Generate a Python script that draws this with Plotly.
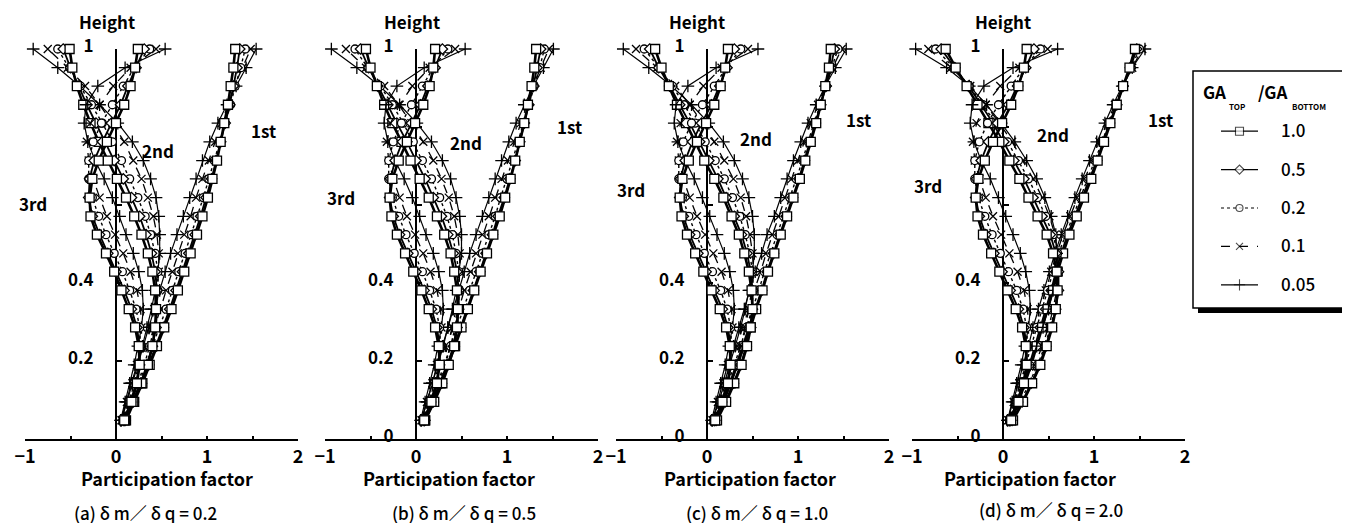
import plotly.graph_objects as go

# ---------------- data ----------------
HEIGHT = [0.048, 0.095, 0.143, 0.190, 0.238, 0.286, 0.333, 0.381, 0.429, 0.476,
          0.524, 0.571, 0.619, 0.667, 0.714, 0.762, 0.810, 0.857, 0.905, 0.952, 1.000]
GA_RATIOS = ["1.0", "0.5", "0.2", "0.1", "0.05"]
MODE_NAMES = ["1st", "2nd", "3rd"]
PANEL_TITLES = ["(a) δ m／ δ q = 0.2", "(b) δ m／ δ q = 0.5",
                "(c) δ m／ δ q = 1.0", "(d) δ m／ δ q = 2.0"]
X_TICK_VALUES = [-1, -0.5, 0, 0.5, 1, 1.5, 2]
X_TICK_TEXT = ["−1", "", "0", "", "1", "", "2"]
Y_TICK_VALUES = [0, 0.2, 0.4, 0.6, 0.8, 1.0]

# panel (a)  rows: GA ratio 1.0, 0.5, 0.2, 0.1, 0.05
A_MODE1 = [
    [0.11, 0.20, 0.29, 0.37, 0.45, 0.53, 0.61, 0.68, 0.75, 0.82, 0.89, 0.95, 1.01, 1.06, 1.11, 1.15, 1.19, 1.23, 1.26, 1.29, 1.31],
    [0.10, 0.19, 0.28, 0.36, 0.44, 0.52, 0.59, 0.66, 0.73, 0.80, 0.87, 0.93, 0.99, 1.05, 1.10, 1.15, 1.20, 1.25, 1.29, 1.33, 1.36],
    [0.09, 0.17, 0.25, 0.33, 0.40, 0.48, 0.55, 0.62, 0.69, 0.76, 0.83, 0.89, 0.96, 1.02, 1.08, 1.14, 1.20, 1.26, 1.31, 1.37, 1.42],
    [0.07, 0.14, 0.21, 0.28, 0.35, 0.42, 0.49, 0.55, 0.62, 0.68, 0.75, 0.82, 0.88, 0.95, 1.02, 1.09, 1.16, 1.23, 1.30, 1.39, 1.48],
    [0.06, 0.12, 0.18, 0.24, 0.30, 0.36, 0.42, 0.48, 0.54, 0.60, 0.67, 0.74, 0.81, 0.88, 0.95, 1.03, 1.12, 1.22, 1.32, 1.43, 1.54],
]
A_MODE2 = [
    [0.10, 0.19, 0.28, 0.35, 0.40, 0.43, 0.44, 0.43, 0.40, 0.35, 0.28, 0.20, 0.11, 0.01, -0.09, -0.19, -0.28, -0.36, -0.43, -0.48, -0.51],
    [0.09, 0.18, 0.27, 0.34, 0.40, 0.44, 0.45, 0.45, 0.43, 0.39, 0.33, 0.26, 0.17, 0.08, -0.02, -0.12, -0.22, -0.32, -0.41, -0.50, -0.58],
    [0.08, 0.16, 0.24, 0.31, 0.37, 0.42, 0.45, 0.46, 0.46, 0.43, 0.38, 0.32, 0.24, 0.15, 0.06, -0.04, -0.15, -0.27, -0.39, -0.51, -0.64],
    [0.07, 0.14, 0.21, 0.27, 0.33, 0.38, 0.42, 0.45, 0.47, 0.47, 0.45, 0.41, 0.35, 0.28, 0.19, 0.09, -0.04, -0.18, -0.34, -0.53, -0.75],
    [0.055, 0.11, 0.17, 0.23, 0.29, 0.34, 0.39, 0.43, 0.46, 0.48, 0.48, 0.47, 0.44, 0.38, 0.30, 0.18, 0.02, -0.18, -0.40, -0.64, -0.91],
]
A_MODE3 = [
    [0.09, 0.17, 0.23, 0.26, 0.25, 0.21, 0.14, 0.06, -0.02, -0.11, -0.21, -0.28, -0.29, -0.26, -0.19, -0.10, 0.00, 0.09, 0.16, 0.21, 0.24],
    [0.085, 0.16, 0.22, 0.26, 0.26, 0.23, 0.17, 0.09, 0.00, -0.09, -0.18, -0.26, -0.30, -0.29, -0.24, -0.15, -0.05, 0.05, 0.13, 0.22, 0.31],
    [0.075, 0.145, 0.20, 0.25, 0.27, 0.26, 0.22, 0.15, 0.07, -0.02, -0.11, -0.19, -0.26, -0.30, -0.30, -0.25, -0.16, -0.04, 0.08, 0.20, 0.37],
    [0.06, 0.12, 0.18, 0.23, 0.26, 0.28, 0.27, 0.23, 0.16, 0.08, -0.01, -0.10, -0.18, -0.25, -0.30, -0.32, -0.28, -0.18, -0.03, 0.16, 0.44],
    [0.05, 0.10, 0.15, 0.20, 0.24, 0.28, 0.30, 0.29, 0.25, 0.19, 0.11, 0.04, -0.04, -0.13, -0.23, -0.31, -0.35, -0.33, -0.20, 0.10, 0.54],
]

# panel (b)
B_MODE1 = [
    [0.10, 0.19, 0.27, 0.35, 0.43, 0.50, 0.57, 0.64, 0.71, 0.78, 0.85, 0.92, 0.98, 1.04, 1.09, 1.14, 1.19, 1.23, 1.27, 1.30, 1.32],
    [0.095, 0.18, 0.26, 0.34, 0.42, 0.49, 0.56, 0.63, 0.70, 0.77, 0.84, 0.90, 0.97, 1.03, 1.09, 1.14, 1.19, 1.24, 1.29, 1.33, 1.37],
    [0.085, 0.16, 0.24, 0.31, 0.38, 0.45, 0.52, 0.59, 0.66, 0.73, 0.80, 0.87, 0.93, 1.00, 1.06, 1.12, 1.18, 1.24, 1.30, 1.36, 1.41],
    [0.07, 0.14, 0.21, 0.27, 0.34, 0.40, 0.47, 0.53, 0.60, 0.66, 0.73, 0.80, 0.87, 0.94, 1.01, 1.08, 1.15, 1.22, 1.29, 1.37, 1.46],
    [0.06, 0.12, 0.18, 0.23, 0.29, 0.35, 0.41, 0.47, 0.53, 0.59, 0.66, 0.73, 0.80, 0.87, 0.94, 1.02, 1.10, 1.19, 1.29, 1.40, 1.51],
]
B_MODE2 = [
    [0.10, 0.20, 0.29, 0.36, 0.42, 0.45, 0.46, 0.45, 0.42, 0.38, 0.31, 0.23, 0.14, 0.04, -0.06, -0.16, -0.26, -0.35, -0.43, -0.50, -0.55],
    [0.095, 0.19, 0.28, 0.35, 0.41, 0.45, 0.47, 0.47, 0.45, 0.41, 0.35, 0.28, 0.19, 0.10, 0.00, -0.10, -0.21, -0.31, -0.42, -0.52, -0.61],
    [0.085, 0.17, 0.25, 0.32, 0.38, 0.43, 0.46, 0.48, 0.47, 0.44, 0.40, 0.34, 0.26, 0.17, 0.07, -0.03, -0.14, -0.26, -0.39, -0.53, -0.67],
    [0.075, 0.15, 0.22, 0.29, 0.35, 0.40, 0.44, 0.47, 0.48, 0.48, 0.46, 0.42, 0.36, 0.28, 0.19, 0.08, -0.05, -0.19, -0.35, -0.55, -0.77],
    [0.06, 0.12, 0.18, 0.24, 0.30, 0.35, 0.40, 0.44, 0.47, 0.50, 0.50, 0.48, 0.44, 0.38, 0.29, 0.17, 0.01, -0.18, -0.40, -0.65, -0.93],
]
B_MODE3 = [
    [0.09, 0.17, 0.23, 0.26, 0.25, 0.21, 0.14, 0.06, -0.03, -0.12, -0.21, -0.27, -0.29, -0.26, -0.19, -0.10, -0.01, 0.08, 0.15, 0.19, 0.21],
    [0.085, 0.16, 0.22, 0.26, 0.26, 0.23, 0.17, 0.09, 0.00, -0.09, -0.18, -0.25, -0.29, -0.28, -0.23, -0.15, -0.05, 0.05, 0.13, 0.21, 0.29],
    [0.075, 0.145, 0.20, 0.25, 0.27, 0.26, 0.22, 0.15, 0.07, -0.02, -0.11, -0.19, -0.26, -0.30, -0.30, -0.25, -0.16, -0.05, 0.07, 0.19, 0.35],
    [0.06, 0.12, 0.18, 0.23, 0.26, 0.28, 0.27, 0.23, 0.16, 0.08, -0.01, -0.10, -0.18, -0.25, -0.30, -0.32, -0.28, -0.18, -0.04, 0.15, 0.43],
    [0.05, 0.10, 0.15, 0.20, 0.24, 0.28, 0.30, 0.29, 0.25, 0.19, 0.11, 0.04, -0.04, -0.13, -0.23, -0.31, -0.35, -0.33, -0.21, 0.09, 0.54],
]

# panel (c)
C_MODE1 = [
    [0.09, 0.18, 0.26, 0.33, 0.41, 0.48, 0.54, 0.61, 0.67, 0.74, 0.81, 0.88, 0.95, 1.02, 1.08, 1.14, 1.20, 1.25, 1.30, 1.34, 1.36],
    [0.085, 0.17, 0.25, 0.32, 0.39, 0.46, 0.53, 0.60, 0.66, 0.73, 0.80, 0.87, 0.94, 1.01, 1.07, 1.13, 1.19, 1.25, 1.31, 1.36, 1.40],
    [0.08, 0.16, 0.23, 0.30, 0.37, 0.43, 0.50, 0.57, 0.63, 0.70, 0.77, 0.84, 0.91, 0.98, 1.05, 1.11, 1.18, 1.24, 1.31, 1.37, 1.44],
    [0.07, 0.14, 0.20, 0.27, 0.33, 0.39, 0.46, 0.52, 0.59, 0.65, 0.72, 0.79, 0.86, 0.93, 1.00, 1.07, 1.14, 1.22, 1.30, 1.38, 1.48],
    [0.06, 0.12, 0.17, 0.23, 0.29, 0.35, 0.41, 0.47, 0.53, 0.60, 0.66, 0.74, 0.81, 0.88, 0.95, 1.03, 1.11, 1.20, 1.30, 1.41, 1.53],
]
C_MODE2 = [
    [0.11, 0.21, 0.30, 0.38, 0.44, 0.48, 0.50, 0.49, 0.46, 0.41, 0.35, 0.27, 0.18, 0.08, -0.03, -0.13, -0.23, -0.33, -0.42, -0.50, -0.57],
    [0.10, 0.20, 0.29, 0.37, 0.43, 0.48, 0.50, 0.50, 0.48, 0.44, 0.38, 0.30, 0.21, 0.12, 0.02, -0.08, -0.19, -0.30, -0.41, -0.53, -0.63],
    [0.09, 0.18, 0.26, 0.34, 0.41, 0.46, 0.49, 0.51, 0.50, 0.47, 0.42, 0.36, 0.28, 0.19, 0.09, -0.02, -0.13, -0.25, -0.38, -0.53, -0.69],
    [0.08, 0.16, 0.23, 0.30, 0.37, 0.42, 0.46, 0.49, 0.51, 0.50, 0.47, 0.43, 0.37, 0.29, 0.19, 0.08, -0.05, -0.19, -0.35, -0.55, -0.78],
    [0.06, 0.13, 0.19, 0.25, 0.31, 0.37, 0.42, 0.46, 0.50, 0.52, 0.52, 0.50, 0.46, 0.39, 0.30, 0.18, 0.02, -0.17, -0.39, -0.64, -0.92],
]
C_MODE3 = [
    [0.09, 0.17, 0.23, 0.26, 0.25, 0.21, 0.14, 0.05, -0.04, -0.13, -0.22, -0.28, -0.30, -0.27, -0.20, -0.11, -0.01, 0.08, 0.15, 0.20, 0.23],
    [0.085, 0.16, 0.22, 0.26, 0.26, 0.23, 0.17, 0.08, -0.01, -0.10, -0.19, -0.26, -0.30, -0.29, -0.24, -0.16, -0.06, 0.05, 0.14, 0.22, 0.30],
    [0.075, 0.145, 0.20, 0.25, 0.27, 0.26, 0.22, 0.15, 0.06, -0.03, -0.12, -0.20, -0.27, -0.31, -0.31, -0.26, -0.17, -0.05, 0.08, 0.21, 0.37],
    [0.06, 0.12, 0.18, 0.23, 0.26, 0.28, 0.27, 0.23, 0.16, 0.07, -0.02, -0.11, -0.19, -0.26, -0.31, -0.33, -0.29, -0.19, -0.04, 0.16, 0.45],
    [0.05, 0.10, 0.15, 0.20, 0.24, 0.28, 0.30, 0.29, 0.25, 0.19, 0.11, 0.03, -0.05, -0.14, -0.24, -0.32, -0.36, -0.34, -0.21, 0.10, 0.56],
]

# panel (d)
D_MODE1 = [
    [0.09, 0.17, 0.24, 0.31, 0.37, 0.43, 0.49, 0.55, 0.60, 0.66, 0.73, 0.81, 0.89, 0.97, 1.04, 1.11, 1.18, 1.25, 1.32, 1.39, 1.45],
    [0.08, 0.15, 0.22, 0.29, 0.35, 0.41, 0.47, 0.53, 0.58, 0.64, 0.71, 0.79, 0.87, 0.95, 1.03, 1.10, 1.17, 1.25, 1.32, 1.40, 1.47],
    [0.07, 0.13, 0.19, 0.25, 0.31, 0.37, 0.43, 0.49, 0.55, 0.61, 0.69, 0.77, 0.85, 0.93, 1.01, 1.09, 1.16, 1.24, 1.32, 1.41, 1.50],
    [0.06, 0.12, 0.18, 0.24, 0.30, 0.35, 0.41, 0.47, 0.53, 0.59, 0.66, 0.74, 0.82, 0.90, 0.98, 1.06, 1.14, 1.23, 1.32, 1.42, 1.53],
    [0.05, 0.11, 0.17, 0.22, 0.28, 0.33, 0.39, 0.45, 0.51, 0.57, 0.64, 0.71, 0.79, 0.87, 0.95, 1.03, 1.12, 1.21, 1.31, 1.42, 1.56],
]
D_MODE2 = [
    [0.11, 0.22, 0.32, 0.41, 0.48, 0.54, 0.58, 0.60, 0.59, 0.55, 0.48, 0.38, 0.28, 0.18, 0.07, -0.04, -0.16, -0.28, -0.40, -0.52, -0.63],
    [0.10, 0.21, 0.31, 0.40, 0.47, 0.53, 0.58, 0.61, 0.61, 0.58, 0.52, 0.43, 0.33, 0.23, 0.12, 0.01, -0.11, -0.24, -0.38, -0.53, -0.68],
    [0.10, 0.19, 0.29, 0.38, 0.46, 0.52, 0.57, 0.60, 0.61, 0.60, 0.55, 0.47, 0.38, 0.28, 0.17, 0.05, -0.08, -0.22, -0.37, -0.54, -0.74],
    [0.09, 0.18, 0.27, 0.35, 0.43, 0.50, 0.55, 0.59, 0.61, 0.60, 0.57, 0.51, 0.43, 0.33, 0.22, 0.10, -0.04, -0.19, -0.36, -0.57, -0.82],
    [0.07, 0.15, 0.23, 0.30, 0.37, 0.44, 0.50, 0.55, 0.58, 0.59, 0.58, 0.53, 0.46, 0.37, 0.26, 0.13, -0.02, -0.18, -0.37, -0.62, -0.96],
]
D_MODE3 = [
    [0.09, 0.17, 0.23, 0.26, 0.25, 0.21, 0.14, 0.05, -0.04, -0.13, -0.22, -0.28, -0.30, -0.27, -0.20, -0.11, -0.01, 0.09, 0.17, 0.23, 0.26],
    [0.085, 0.16, 0.22, 0.26, 0.26, 0.23, 0.17, 0.08, -0.01, -0.10, -0.19, -0.26, -0.30, -0.29, -0.24, -0.16, -0.06, 0.06, 0.16, 0.25, 0.34],
    [0.075, 0.145, 0.20, 0.25, 0.27, 0.26, 0.22, 0.15, 0.06, -0.03, -0.12, -0.20, -0.27, -0.31, -0.31, -0.26, -0.17, -0.05, 0.09, 0.23, 0.41],
    [0.06, 0.12, 0.18, 0.23, 0.26, 0.28, 0.27, 0.23, 0.16, 0.07, -0.02, -0.11, -0.19, -0.26, -0.31, -0.33, -0.29, -0.19, -0.03, 0.18, 0.49],
    [0.05, 0.10, 0.15, 0.20, 0.24, 0.28, 0.30, 0.29, 0.25, 0.19, 0.11, 0.03, -0.05, -0.14, -0.24, -0.32, -0.36, -0.34, -0.21, 0.11, 0.60],
]

PANELS = [
    [A_MODE1, A_MODE2, A_MODE3],
    [B_MODE1, B_MODE2, B_MODE3],
    [C_MODE1, C_MODE2, C_MODE3],
    [D_MODE1, D_MODE2, D_MODE3],
]

# ---------------- styling / layout constants ----------------
W, H = 1350, 523
FONT = "Noto Sans CJK JP"
X0_PX = [108, 408, 699, 995]      # pixel of x = 0 in each panel
UNIT_PX = 91                       # pixels per unit on x
PY_BOTTOM, PY_TOP = 431, 41        # pixels of height 0 and 1
Y_DOMAIN = [1 - PY_BOTTOM / H, 1 - PY_TOP / H]

STYLES = {
    "1.0":  dict(symbol="square", size=9, fill="white", lw=2.6, dash="solid"),
    "0.5":  dict(symbol="diamond", size=8, fill="white", lw=1.8, dash="solid"),
    "0.2":  dict(symbol="circle", size=8, fill="white", lw=1.4, dash="dot"),
    "0.1":  dict(symbol="x-thin-open", size=8, fill="black", lw=1.3, dash="dash"),
    "0.05": dict(symbol="cross-thin-open", size=9, fill="black", lw=1.2, dash="solid"),
}
DRAW_ORDER = [4, 3, 2, 1, 0]

# annotation positions
MODE_LABEL_POS = [           # data units of each panel
    [(1.62, 0.79), (0.46, 0.74), (-0.91, 0.605)],
    [(1.69, 0.80), (0.55, 0.76), (-0.82, 0.62)],
    [(1.67, 0.82), (0.54, 0.77), (-0.84, 0.64)],
    [(1.73, 0.82), (0.55, 0.78), (-0.82, 0.65)],
]
HEIGHT_LABEL_PX = [(99, 13), (404, 13), (689, 13), (995, 13)]
XTITLE_PX = [(159, 470), (441, 470), (742, 470), (1022, 470)]
CAPTION_PX = [(137, 504), (456, 504), (749, 504), (1043, 501)]


def px_to_paper(px, py):
    return px / W, 1 - py / H


fig = go.Figure()

for p, modes in enumerate(PANELS):
    xa = "x" if p == 0 else f"x{p+1}"
    ya = "y" if p == 0 else f"y{p+1}"
    for mode in modes:
        for gi in DRAW_ORDER:
            st = STYLES[GA_RATIOS[gi]]
            fig.add_trace(go.Scatter(
                x=mode[gi], y=HEIGHT, xaxis=xa, yaxis=ya,
                mode="lines+markers", cliponaxis=False, showlegend=False,
                line=dict(color="black", width=st["lw"], dash=st["dash"]),
                marker=dict(symbol=st["symbol"], size=st["size"], color=st["fill"],
                            line=dict(color="black", width=1.3)),
                hoverinfo="skip",
            ))

layout = dict(
    template="none",
    width=W, height=H, margin=dict(l=0, r=0, t=0, b=0, autoexpand=False),
    paper_bgcolor="white", plot_bgcolor="rgba(0,0,0,0)", showlegend=False,
    font=dict(family=FONT, color="black"),
)
annotations = []
for p in range(4):
    sfx = "" if p == 0 else str(p + 1)
    x0 = X0_PX[p]
    layout[f"xaxis{sfx}"] = dict(
        domain=[(x0 - UNIT_PX) / W, (x0 + 2 * UNIT_PX) / W], range=[-1, 2],
        anchor=f"y{sfx}", showline=True, linecolor="black", linewidth=2,
        ticks="inside", ticklen=3, tickwidth=1.5, tickcolor="black",
        tickvals=X_TICK_VALUES, ticktext=X_TICK_TEXT, automargin=False,
        tickfont=dict(family=FONT, size=18, color="black", weight=700),
        showgrid=False, zeroline=False, fixedrange=True,
    )
    ytext = ["" if p == 0 else "0", "0.2", "0.4", "", "", "1"]
    layout[f"yaxis{sfx}"] = dict(
        domain=Y_DOMAIN, range=[0, 1], anchor="free", position=x0 / W,
        showline=True, linecolor="black", linewidth=2, layer="below traces",
        ticks="inside", ticklen=5, tickwidth=1.5, tickcolor="black",
        tickvals=Y_TICK_VALUES, ticktext=ytext, ticklabelstandoff=18,
        ticklabelshift=-3, automargin=False,
        tickfont=dict(family=FONT, size=17, color="black", weight=700),
        showgrid=False, zeroline=False, fixedrange=True,
    )
    xr, yr = f"x{sfx}", f"y{sfx}"
    for (mx, my), name in zip(MODE_LABEL_POS[p], MODE_NAMES):
        annotations.append(dict(x=mx, y=my, xref=xr, yref=yr, text=name, showarrow=False,
                                font=dict(family=FONT, size=17, weight=700)))
    for (px, py), txt, size, wt in [(HEIGHT_LABEL_PX[p], "Height", 17, 700),
                                    (XTITLE_PX[p], "Participation factor", 18, 700),
                                    (CAPTION_PX[p], PANEL_TITLES[p], 17, 500)]:
        ax_, ay_ = px_to_paper(px, py)
        annotations.append(dict(x=ax_, y=ay_, xref="paper", yref="paper", text=txt,
                                showarrow=False, xanchor="center", yanchor="middle",
                                font=dict(family=FONT, size=size, weight=wt)))

# ---------------- legend (drawn with its own small axes) ----------------
LEG_LEFT, LEG_RIGHT, LEG_TOP, LEG_BOTTOM = 1185, 1345, 63, 300
layout["xaxis5"] = dict(domain=[1213 / W, 1250 / W], range=[0, 1], anchor="y5",
                        visible=False, fixedrange=True, automargin=False)
layout["yaxis5"] = dict(domain=[1 - 296 / H, 1 - 104 / H], range=[4.5, -0.5], anchor="x5",
                        side="right", showline=False, ticks="", showgrid=False, zeroline=False,
                        tickvals=list(range(len(GA_RATIOS))), ticktext=GA_RATIOS,
                        ticklabelstandoff=22, fixedrange=True, automargin=False,
                        tickfont=dict(family=FONT, size=17, color="black", weight=500))
for gi, ga in enumerate(GA_RATIOS):
    st = STYLES[ga]
    fig.add_trace(go.Scatter(
        x=[0, 0.5, 1], y=[gi, gi, gi], xaxis="x5", yaxis="y5", mode="lines+markers",
        cliponaxis=False, showlegend=False, hoverinfo="skip",
        line=dict(color="black", width=1.2, dash=st["dash"]),
        marker=dict(symbol=st["symbol"], size=[0, st["size"] - 1, 0], color=st["fill"],
                    line=dict(color="black", width=1.1)),
    ))

shapes = [
    dict(type="rect", xref="paper", yref="paper", layer="below",
         x0=(LEG_LEFT + 5) / W, x1=(LEG_RIGHT + 5) / W,
         y0=1 - (LEG_BOTTOM + 5) / H, y1=1 - (LEG_TOP + 5) / H,
         fillcolor="black", line=dict(width=0)),
    dict(type="rect", xref="paper", yref="paper", layer="below",
         x0=LEG_LEFT / W, x1=LEG_RIGHT / W, y0=1 - LEG_BOTTOM / H, y1=1 - LEG_TOP / H,
         fillcolor="white", line=dict(color="black", width=1.5)),
]
for txt, px, py, size in [("GA", 1206, 83, 17), ("TOP", 1229, 98, 8),
                          ("/GA", 1264, 83, 17), ("BOTTOM", 1301, 99, 8)]:
    ax_, ay_ = px_to_paper(px, py)
    annotations.append(dict(x=ax_, y=ay_, xref="paper", yref="paper", text=txt,
                            showarrow=False, xanchor="center", yanchor="middle",
                            font=dict(family=FONT, size=size, weight=700)))

layout["annotations"] = annotations
layout["shapes"] = shapes
fig.update_layout(**layout)
fig.write_html("out.html")
